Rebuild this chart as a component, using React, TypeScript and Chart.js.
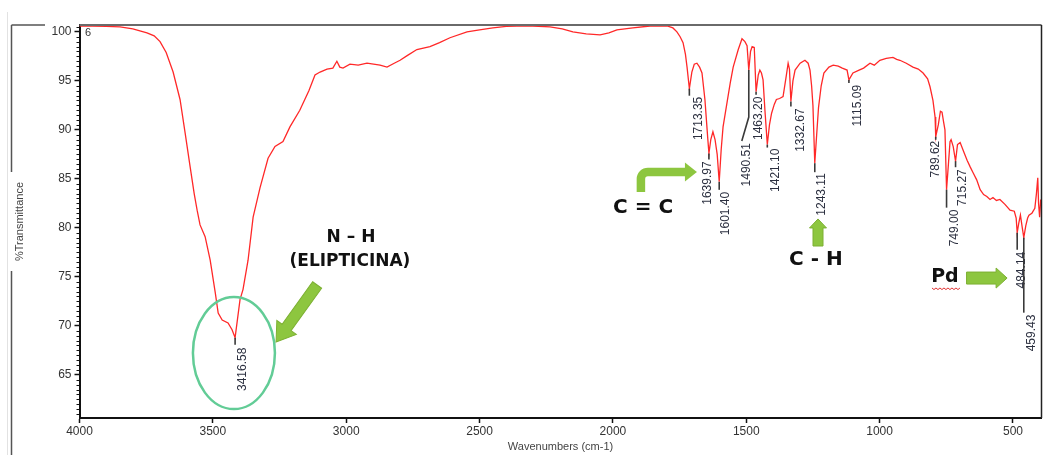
import React, { useEffect, useRef } from 'react';
import { Chart, registerables } from 'chart.js';

Chart.register(...registerables);

// ---- Spectrum data (wavenumber cm-1, %T) ----
const wavenumbers: number[] = [
  4000, 3950, 3900, 3848, 3800, 3747, 3720, 3698, 3675, 3649, 3623, 3604, 3585, 3570, 3559, 3548, 3529, 3510,
  3491, 3480, 3465, 3443, 3428, 3416.58, 3398, 3387, 3368, 3349, 3323, 3293, 3267, 3237, 3211, 3174, 3140, 3117,
  3098, 3072, 3050, 3035, 3024, 3012, 2986, 2955, 2922, 2873, 2847, 2820, 2798, 2770, 2735, 2686, 2650, 2611,
  2547, 2500, 2450, 2400, 2360, 2300, 2236, 2190, 2150, 2100, 2048, 2015, 1985, 1925, 1861, 1797, 1775, 1760,
  1748, 1737, 1728, 1722, 1713.35, 1704, 1695, 1685, 1675, 1666, 1655, 1644, 1639.97, 1633, 1625, 1617, 1609,
  1601.4, 1594, 1587, 1572, 1560, 1549, 1530, 1516, 1505, 1497, 1490.51, 1484, 1478, 1470, 1463.2, 1455, 1449,
  1443, 1437, 1430, 1421.1, 1413, 1405, 1395, 1387, 1375, 1362, 1350, 1343, 1338, 1332.67, 1325, 1317, 1298,
  1280, 1268, 1261, 1255, 1250, 1243.11, 1236, 1229, 1219, 1209, 1190, 1174, 1155, 1140, 1122, 1115.09, 1100,
  1077, 1060, 1036, 1020, 999, 975, 950, 936, 924, 900, 875, 855, 837, 820, 811, 800, 792, 789.62, 780, 772,
  766, 760, 755, 749.0, 742, 736, 732, 724, 715.27, 708, 698, 685, 672, 660, 649, 636, 623, 610, 598, 586, 575,
  562, 549, 530, 511, 495, 488, 484.14, 478, 472, 465, 459.43, 452, 445, 440, 429, 418, 412, 407, 404, 400, 396,
];
const transmittance: number[] = [
  100.6, 100.6, 100.55, 100.5, 100.3, 99.9, 99.6, 99.0, 97.9, 95.9, 93.1, 89.7, 86.2, 83.5, 81.8, 80.3, 79.1, 76.7,
  73.4, 71.3, 70.6, 70.3, 69.6, 68.8, 72.7, 73.7, 76.7, 81.1, 84.1, 87.1, 88.3, 88.8, 90.3, 92.0, 94.0, 95.6,
  95.9, 96.2, 96.3, 97.0, 96.4, 96.3, 96.7, 96.6, 96.8, 96.6, 96.4, 96.8, 97.1, 97.6, 98.2, 98.5, 98.9, 99.4,
  100.0, 100.2, 100.4, 100.55, 100.6, 100.6, 100.5, 100.3, 100.0, 99.8, 99.7, 99.9, 100.2, 100.4, 100.6, 100.6, 100.4, 100.0,
  99.5, 98.9, 97.7, 96.4, 94.2, 95.9, 96.7, 96.8, 96.4, 95.8, 93.1, 89.0, 87.6, 89.0, 89.8, 89.0, 87.5,
  84.7, 88.0, 90.3, 92.8, 94.8, 96.4, 98.2, 99.3, 99.0, 98.6, 96.1, 98.0, 98.5, 98.4, 93.9, 95.6, 96.1,
  95.8, 95.1, 92.0, 88.5, 90.5, 91.7, 92.6, 93.1, 93.2, 93.4, 95.5, 96.8, 96.2, 92.9, 95.0, 96.1, 96.8,
  97.1, 96.8, 96.1, 94.5, 92.5, 86.6, 89.5, 92.3, 94.5, 95.8, 96.4, 96.6, 96.5, 96.3, 96.1, 95.1, 95.8,
  96.1, 96.3, 96.8, 96.6, 97.1, 97.3, 97.4, 97.2, 97.1, 96.8, 96.4, 96.2, 95.8, 95.2, 94.4, 93.0, 91.3, 89.3, 90.5, 91.9,
  91.8, 90.8, 90.0, 83.9, 86.5, 88.8, 89.0, 88.3, 86.8, 88.5, 88.7, 87.8, 86.9, 86.2, 85.6, 84.9, 83.9, 83.4, 83.2, 82.9, 83.1,
  82.8, 82.9, 82.4, 81.8, 81.7, 81.0, 79.5, 80.5, 81.3, 80.0, 79.0, 80.2, 81.0, 81.3, 81.5, 82.0, 83.5, 85.1, 82.5, 81.1, 82.9,
];

// ---- Axis ticks ----
const xTickValues: number[] = [4000, 3500, 3000, 2500, 2000, 1500, 1000, 500];
const yTickValues: number[] = [65, 70, 75, 80, 85, 90, 95, 100];

// ---- Peak labels (values from the spectrum) ----
const peakWavenumbers: number[] = [
  3416.58, 1713.35, 1639.97, 1601.4, 1490.51, 1463.2, 1421.1, 1332.67, 1243.11, 1115.09, 789.62, 749.0, 715.27,
  484.14, 459.43,
];
const peakLabels: string[] = [
  '3416.58', '1713.35', '1639.97', '1601.40', '1490.51', '1463.20', '1421.10', '1332.67', '1243.11', '1115.09',
  '789.62', '749.00', '715.27', '484.14', '459.43',
];

// label layout (pixel styling for leader lines / text), aligned with peakLabels
const peakLayout = [
  { drop: 7, dx: 7.5, top: 10 },
  { drop: 7, dx: 9.5, top: 8 },
  { drop: 6, dx: -1, top: 8 },
  { drop: 8, dx: 6, top: 10 },
  { drop: 47, dx: -2, top: 73, bendX: -7, bendY: 71 },
  { drop: 3, dx: 2.5, top: 5 },
  { drop: 3, dx: 8, top: 4 },
  { drop: 5, dx: 10, top: 7 },
  { drop: 9, dx: 7, top: 10 },
  { drop: 3, dx: 9, top: 5 },
  { drop: 3, dx: -0.5, top: 4 },
  { drop: 18, dx: 8, top: 20 },
  { drop: 6, dx: 7, top: 8 },
  { drop: 17, dx: 4.5, top: 19 },
  { drop: 75, dx: 8, top: 77 },
];

// ---- Annotation anchors (in data coordinates) ----
const nhTitle = { w: 2982, t: 78.97, text: 'N – H' };
const nhSub = { w: 2986, t: 76.52, text: '(ELIPTICINA)' };
const nhEllipse = { w: 3421, t: 67.23 };
const nhArrow = { w1: 3109, t1: 74.17, w2: 3263, t2: 68.35 };
const ccText = { w: 1887, t: 82.03, text: 'C = C' };
const ccArrow = { w1: 1895, t1: 83.66, tCorner: 85.7, w2: 1685 };
const chText = { w: 1239, t: 76.72, text: 'C - H' };
const chArrow = { w: 1231, t1: 78.15, t2: 80.91 };
const pdText = { w: 755, t: 74.99, text: 'Pd' };
const pdArrow = { w1: 674, w2: 522, t: 74.88 };
const cornerText = { w: 3968, t: 99.88, text: '6' };

const GREEN = '#8dc63f';
const AX_FONT = '"Liberation Sans", Arial, sans-serif';

function drawArrow(ctx: CanvasRenderingContext2D, x1: number, y1: number, x2: number, y2: number, sw: number, hw: number, hl: number) {
  const a = Math.atan2(y2 - y1, x2 - x1);
  const len = Math.hypot(x2 - x1, y2 - y1);
  ctx.save();
  ctx.translate(x1, y1);
  ctx.rotate(a);
  ctx.beginPath();
  ctx.moveTo(0, -sw / 2);
  ctx.lineTo(len - hl, -sw / 2);
  ctx.lineTo(len - hl, -hw / 2);
  ctx.lineTo(len, 0);
  ctx.lineTo(len - hl, hw / 2);
  ctx.lineTo(len - hl, sw / 2);
  ctx.lineTo(0, sw / 2);
  ctx.closePath();
  ctx.fillStyle = GREEN;
  ctx.fill();
  ctx.strokeStyle = '#7cb032';
  ctx.lineWidth = 1;
  ctx.stroke();
  ctx.restore();
}

const decorPlugin = {
  id: 'decor',
  afterDraw(chart: any) {
    const { ctx, chartArea } = chart;
    const xs = chart.scales.x;
    const ys = chart.scales.y;
    const X = (w: number) => xs.getPixelForValue(w);
    const Y = (t: number) => ys.getPixelForValue(t);
    ctx.save();

    // frame lines
    ctx.strokeStyle = '#6a6a6a';
    ctx.lineWidth = 2;
    ctx.beginPath();
    ctx.moveTo(chartArea.left, chartArea.top);
    ctx.lineTo(chartArea.right, chartArea.top);
    ctx.stroke();
    ctx.strokeStyle = '#222';
    ctx.lineWidth = 1.5;
    ctx.beginPath();
    ctx.moveTo(chartArea.right, chartArea.top);
    ctx.lineTo(chartArea.right, chartArea.bottom);
    ctx.stroke();
    ctx.strokeStyle = '#555';
    ctx.lineWidth = 1.5;
    ctx.beginPath();
    ctx.moveTo(11.5, chartArea.top);
    ctx.lineTo(45, chartArea.top);
    ctx.moveTo(11.5, chartArea.top);
    ctx.lineTo(11.5, 172);
    ctx.moveTo(11.5, 271);
    ctx.lineTo(11.5, 455);
    ctx.stroke();
    ctx.strokeStyle = '#e2e2e2';
    ctx.lineWidth = 1;
    ctx.beginPath();
    ctx.moveTo(7.5, 12);
    ctx.lineTo(7.5, 455);
    ctx.stroke();

    // minor y ticks
    ctx.strokeStyle = '#111';
    ctx.lineWidth = 1;
    ctx.beginPath();
    for (let v = 61; v <= 100.5; v += 0.5) {
      if (v % 5 === 0) continue;
      const y = Math.round(Y(v)) + 0.5;
      ctx.moveTo(chartArea.left - 3, y);
      ctx.lineTo(chartArea.left, y);
    }
    ctx.stroke();

    // peak labels
    ctx.font = `12px ${AX_FONT}`;
    peakWavenumbers.forEach((w, i) => {
      const idx = wavenumbers.indexOf(w);
      const t = transmittance[idx];
      const px = X(w);
      const py = Y(t);
      const L: any = peakLayout[i];
      ctx.strokeStyle = '#3a3a3a';
      ctx.lineWidth = 1.6;
      ctx.beginPath();
      ctx.moveTo(px, py);
      ctx.lineTo(px, py + L.drop);
      if (L.bendX !== undefined) ctx.lineTo(px + L.bendX, py + L.bendY);
      ctx.stroke();
      ctx.save();
      ctx.translate(px + L.dx, py + L.top);
      ctx.rotate(-Math.PI / 2);
      ctx.fillStyle = '#2c3040';
      ctx.textAlign = 'right';
      ctx.textBaseline = 'middle';
      ctx.fillText(peakLabels[i], 0, 0);
      ctx.restore();
    });

    // small corner text
    ctx.fillStyle = '#333';
    ctx.font = `11px ${AX_FONT}`;
    ctx.textAlign = 'center';
    ctx.textBaseline = 'middle';
    ctx.fillText(cornerText.text, X(cornerText.w), Y(cornerText.t));

    // ellipse
    ctx.strokeStyle = '#62cc96';
    ctx.lineWidth = 2.5;
    ctx.beginPath();
    ctx.ellipse(X(nhEllipse.w), Y(nhEllipse.t), 41, 56, 0, 0, Math.PI * 2);
    ctx.stroke();

    // annotation texts
    ctx.fillStyle = '#111';
    ctx.textAlign = 'center';
    ctx.textBaseline = 'middle';
    ctx.font = 'bold 17px "DejaVu Sans", sans-serif';
    ctx.fillText(nhTitle.text, X(nhTitle.w), Y(nhTitle.t));
    ctx.fillText(nhSub.text, X(nhSub.w), Y(nhSub.t));
    ctx.font = 'bold 20px "DejaVu Sans", sans-serif';
    ctx.fillText(ccText.text, X(ccText.w), Y(ccText.t));
    ctx.fillText(chText.text, X(chText.w), Y(chText.t));
    ctx.font = 'bold 19px "DejaVu Sans", sans-serif';
    ctx.fillText(pdText.text, X(pdText.w), Y(pdText.t));

    // red wavy underline under Pd
    const pdx = X(pdText.w);
    const pdy = Y(pdText.t) + 11;
    ctx.strokeStyle = '#e03030';
    ctx.lineWidth = 1;
    ctx.beginPath();
    for (let k = 0; k <= 14; k++) {
      const x = pdx - 13 + k * 2;
      const y = pdy + (k % 2 === 0 ? 0 : 1.6);
      if (k === 0) ctx.moveTo(x, y);
      else ctx.lineTo(x, y);
    }
    ctx.stroke();

    // arrows
    drawArrow(ctx, X(nhArrow.w1), Y(nhArrow.t1), X(nhArrow.w2), Y(nhArrow.t2), 11, 24, 18);
    drawArrow(ctx, X(chArrow.w), Y(chArrow.t1), X(chArrow.w), Y(chArrow.t2), 10, 17, 9);
    drawArrow(ctx, X(pdArrow.w1), Y(pdArrow.t), X(pdArrow.w2), Y(pdArrow.t), 12, 20, 11);

    // bent arrow for C = C
    const sx = X(ccArrow.w1);
    const sy = Y(ccArrow.t1);
    const cy = Y(ccArrow.tCorner);
    const tx = X(ccArrow.w2);
    ctx.strokeStyle = GREEN;
    ctx.lineWidth = 8.5;
    ctx.lineCap = 'butt';
    ctx.lineJoin = 'round';
    ctx.beginPath();
    ctx.moveTo(sx, sy);
    ctx.lineTo(sx, cy + 7);
    ctx.arcTo(sx, cy, sx + 7, cy, 7);
    ctx.lineTo(tx - 11, cy);
    ctx.stroke();
    ctx.fillStyle = GREEN;
    ctx.beginPath();
    ctx.moveTo(tx - 12, cy - 9.5);
    ctx.lineTo(tx, cy);
    ctx.lineTo(tx - 12, cy + 9.5);
    ctx.closePath();
    ctx.fill();

    ctx.restore();
  },
};

export default function App() {
  const ref = useRef<HTMLCanvasElement>(null);
  useEffect(() => {
    document.body.style.margin = '0';
    const canvas = ref.current;
    if (!canvas) return;
    const points = wavenumbers.map((w, i) => ({ x: w, y: transmittance[i] }));
    const chart = new Chart(canvas, {
      type: 'line',
      data: {
        datasets: [
          {
            data: points,
            borderColor: 'rgb(255,40,40)',
            borderWidth: 1.3,
            pointRadius: 0,
            tension: 0,
            fill: false,
          },
        ],
      },
      options: {
        animation: false,
        responsive: true,
        maintainAspectRatio: false,
        layout: { padding: { top: 25, right: 4.5, left: 0, bottom: 0 } },
        plugins: { legend: { display: false }, tooltip: { enabled: false } },
        scales: {
          x: {
            type: 'linear',
            reverse: true,
            min: 393,
            max: 4000,
            afterBuildTicks: (s: any) => {
              s.ticks = xTickValues.map((v) => ({ value: v }));
            },
            afterFit: (s: any) => {
              s.height = 37;
            },
            grid: { drawOnChartArea: false, drawTicks: true, tickLength: 5, color: '#111', tickWidth: 1.5 },
            border: { display: true, color: '#111', width: 2 },
            ticks: {
              color: '#333',
              font: { family: AX_FONT, size: 12 },
              padding: 1,
              maxRotation: 0,
              autoSkip: false,
              callback: (v: any) => String(v),
            },
            title: {
              display: true,
              text: 'Wavenumbers (cm-1)',
              color: '#444',
              font: { family: AX_FONT, size: 11 },
              padding: { top: 0, bottom: 1.4 },
            },
          },
          y: {
            type: 'linear',
            min: 60.6,
            max: 100.7,
            afterBuildTicks: (s: any) => {
              s.ticks = yTickValues.map((v) => ({ value: v }));
            },
            afterFit: (s: any) => {
              s.width = 79.5;
            },
            grid: { drawOnChartArea: false, drawTicks: true, tickLength: 5, color: '#111', tickWidth: 1.5 },
            border: { display: true, color: '#111', width: 2 },
            ticks: {
              color: '#333',
              font: { family: AX_FONT, size: 12 },
              padding: 3,
              autoSkip: false,
              callback: (v: any) => String(v),
            },
            title: {
              display: true,
              text: '%Transmittance',
              color: '#444',
              font: { family: AX_FONT, size: 11 },
              padding: { top: 13.4, bottom: 0 },
            },
          },
        },
      },
      plugins: [decorPlugin],
    });
    return () => chart.destroy();
  }, []);
  return (
    <div style={{ width: 1046, height: 455, position: 'relative', background: '#fff' }}>
      <canvas ref={ref} />
    </div>
  );
}
